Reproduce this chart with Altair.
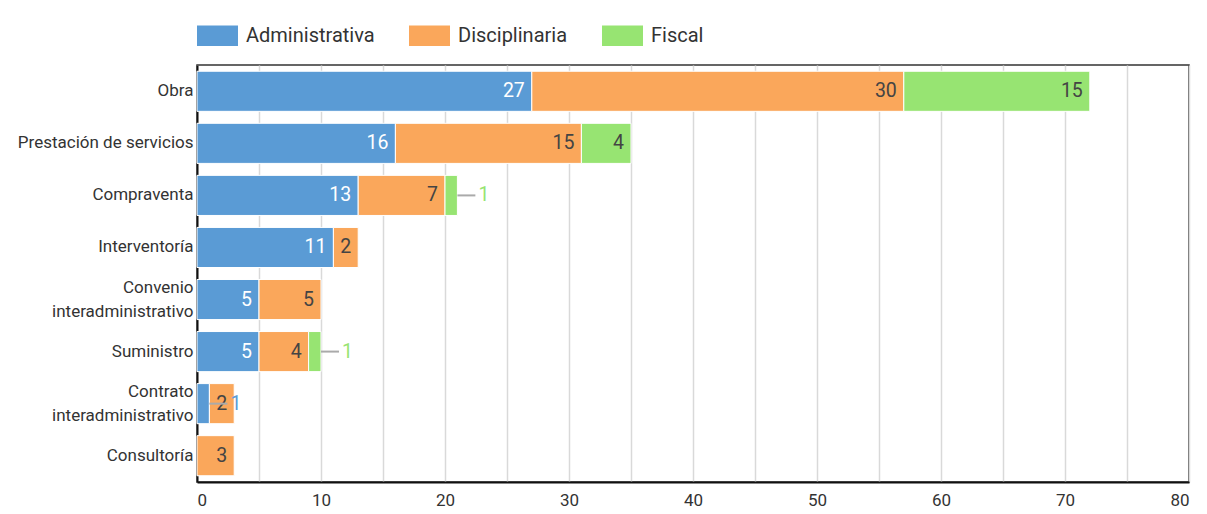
import altair as alt
import pandas as pd

categories = ["Obra", "Prestación de servicios", "Compraventa", "Interventoría",
              "Convenio interadministrativo", "Suministro",
              "Contrato interadministrativo", "Consultoría"]
administrativa = [27, 16, 13, 11, 5, 5, 1, 0]
disciplinaria = [30, 15, 7, 2, 5, 4, 2, 3]
fiscal = [15, 4, 1, 0, 0, 1, 0, 0]
series = ["Administrativa", "Disciplinaria", "Fiscal"]
colors = ["#5A9BD5", "#FAA75B", "#97E472"]
x_ticks = list(range(0, 81, 5))

rows = []
for i, c in enumerate(categories):
    for j, vals in enumerate([administrativa, disciplinaria, fiscal]):
        v = vals[i]
        if v > 0:
            rows.append(dict(cat=c, serie=series[j], order=j, value=v,
                             scol=colors[j],
                             tcol="#ffffff" if j == 0 else "#444444"))
df = pd.DataFrame(rows)

FONT = "Roboto"
MULTI = "indexof(datum.value, 'interadministrativo') > 0"

base = alt.Chart(df).transform_stack(
    stack="value", as_=["x0", "x1"], groupby=["cat"],
    sort=[alt.SortField("order", order="ascending")]
).transform_calculate(xl="datum.x1 + 1.45")

ycat = alt.Y("cat:N", sort=categories, title=None,
             scale=alt.Scale(paddingInner=0.23, paddingOuter=0.12),
             axis=alt.Axis(labelFontSize=17, labelColor="#333", labelFont=FONT,
                           domainColor="#111", domainWidth=2, ticks=False,
                           labelPadding=4, labelLineHeight=24,
                           labelOffset={"condition": {"test": MULTI, "value": -12}, "value": 0},
                           labelExpr=MULTI + " ? split(datum.value, ' ') : datum.value"))

xscale = alt.Scale(domain=[0, 80], nice=False)

bars = base.mark_bar(stroke="white", strokeWidth=1).encode(
    x=alt.X("x0:Q", scale=xscale, title=None,
            axis=alt.Axis(values=x_ticks, labelExpr="datum.value % 10 == 0 ? datum.label : ''",
                          grid=True, gridColor="#d9d9d9", gridWidth=1.5, ticks=False,
                          domainColor="#111", domainWidth=2, labelFontSize=17,
                          labelColor="#333", labelFont=FONT, labelPadding=10)),
    x2="x1:Q",
    y=ycat,
    color=alt.Color("serie:N", sort=series,
                    scale=alt.Scale(domain=series, range=colors),
                    legend=alt.Legend(title=None, orient="top", direction="horizontal",
                                      symbolType="M-1,-0.5H1V0.5H-1Z", symbolSize=1681,
                                      symbolStrokeWidth=0, labelFontSize=20, labelFont=FONT,
                                      labelColor="#333", labelOffset=8, columnPadding=34,
                                      offset=19)),
)

inside = base.transform_filter("datum.value >= 2").mark_text(
    align="right", baseline="middle", dx=-7, fontSize=19.5, font=FONT
).encode(
    x=alt.X("x1:Q", scale=xscale),
    y=alt.Y("cat:N", sort=categories),
    text="value:Q",
    color=alt.Color("tcol:N", scale=None),
)

leader = base.transform_filter("datum.value < 2").mark_rule(
    color="#aaaaaa", strokeWidth=2
).encode(
    x=alt.X("x1:Q", scale=xscale),
    x2="xl:Q",
    y=alt.Y("cat:N", sort=categories),
)

outside = base.transform_filter("datum.value < 2").mark_text(
    align="left", baseline="middle", dx=3, fontSize=19.5, font=FONT
).encode(
    x=alt.X("xl:Q", scale=xscale),
    y=alt.Y("cat:N", sort=categories),
    text="value:Q",
    color=alt.Color("scol:N", scale=None),
)

chart = alt.layer(bars, inside, leader, outside).properties(
    width=992, height=417,
    autosize=alt.AutoSizeParams(type="none"),
    padding={"left": 189, "top": 57, "right": 10, "bottom": 32},
    background="white",
).configure_view(stroke="#333", strokeWidth=1.5)

chart.save("out.html", embed_options={"renderer": "svg", "actions": False})
